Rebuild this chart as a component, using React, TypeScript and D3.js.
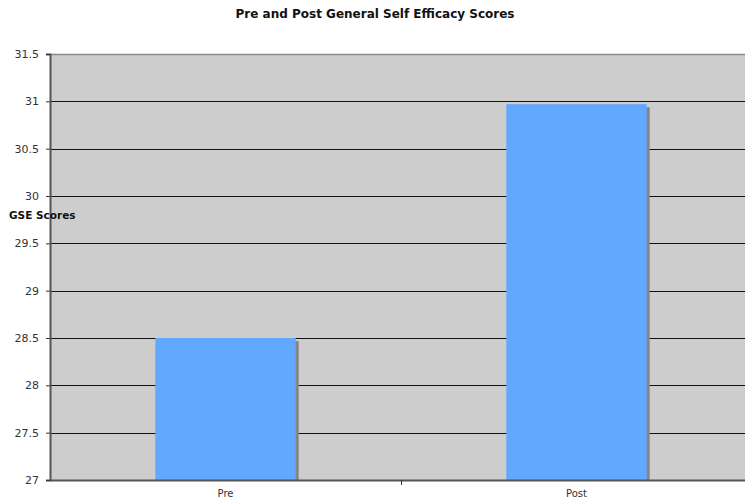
import React, { useEffect, useRef } from 'react';
import * as d3 from 'd3';

const categories = ['Pre', 'Post'];
const scores = [28.5, 30.97];
const yTicks = [27, 27.5, 28, 28.5, 29, 29.5, 30, 30.5, 31, 31.5];

const App: React.FC = () => {
  const svgRef = useRef<SVGSVGElement>(null);

  useEffect(() => {
    if (!svgRef.current) return;
    const width = 745;
    const height = 503;
    const plot = { left: 50, right: 752, top: 54, bottom: 480 };
    const font = 'DejaVu Sans, Verdana, sans-serif';

    const svg = d3.select(svgRef.current).attr('width', width).attr('height', height);
    svg.selectAll('*').remove();

    const x = d3.scaleBand().domain(categories).range([plot.left, plot.right]).padding(0);
    const y = d3.scaleLinear().domain([27, 31.5]).range([plot.bottom, plot.top]);

    // plot background
    svg
      .append('rect')
      .attr('x', plot.left)
      .attr('y', plot.top)
      .attr('width', plot.right - plot.left)
      .attr('height', plot.bottom - plot.top)
      .attr('fill', '#cdcdcd');

    // top border
    svg
      .append('line')
      .attr('x1', plot.left)
      .attr('x2', plot.right)
      .attr('y1', plot.top + 0.5)
      .attr('y2', plot.top + 0.5)
      .attr('stroke', '#8a8a8a')
      .attr('stroke-width', 1.5);

    // grid lines
    svg
      .selectAll('.grid')
      .data(yTicks.filter((t) => t > 27 && t < 31.5))
      .enter()
      .append('line')
      .attr('x1', plot.left)
      .attr('x2', plot.right)
      .attr('y1', (d) => Math.round(y(d)) + 0.5)
      .attr('y2', (d) => Math.round(y(d)) + 0.5)
      .attr('stroke', '#111')
      .attr('stroke-width', 1);

    const barW = x.bandwidth() * 0.4;
    const data = categories.map((c, i) => ({ c, v: scores[i] }));

    // bar shadows
    svg
      .selectAll('.shadow')
      .data(data)
      .enter()
      .append('rect')
      .attr('x', (d) => (x(d.c) ?? 0) + (x.bandwidth() - barW) / 2 + 3)
      .attr('y', (d) => y(d.v) + 3)
      .attr('width', barW)
      .attr('height', (d) => plot.bottom - y(d.v) - 3)
      .attr('fill', '#858585');

    // bars
    svg
      .selectAll('.bar')
      .data(data)
      .enter()
      .append('rect')
      .attr('x', (d) => (x(d.c) ?? 0) + (x.bandwidth() - barW) / 2)
      .attr('y', (d) => y(d.v))
      .attr('width', barW)
      .attr('height', (d) => plot.bottom - y(d.v))
      .attr('fill', '#63a8ff');

    // y axis
    const yAxis = svg
      .append('g')
      .attr('transform', `translate(${plot.left},0)`)
      .call(
        d3
          .axisLeft(y)
          .tickValues(yTicks)
          .tickSize(4)
          .tickPadding(7)
          .tickFormat((d) => String(d)),
      );
    yAxis.select('.domain').attr('stroke', '#555').attr('stroke-width', 2);
    yAxis.selectAll('.tick line').attr('stroke', '#333');
    yAxis
      .selectAll('.tick text')
      .attr('fill', '#333')
      .style('font-family', font)
      .style('font-size', '11px');

    // x axis
    const xAxis = svg
      .append('g')
      .attr('transform', `translate(0,${plot.bottom})`)
      .call(d3.axisBottom(x).tickSize(0).tickPadding(10));
    xAxis.select('.domain').attr('stroke', '#555').attr('stroke-width', 2);
    xAxis
      .selectAll('.tick text')
      .attr('fill', '#333')
      .style('font-family', font)
      .style('font-size', '10px');

    // category separator ticks
    svg
      .selectAll('.sep')
      .data(categories.slice(1))
      .enter()
      .append('line')
      .attr('x1', (d) => Math.round(x(d) ?? 0) + 0.5)
      .attr('x2', (d) => Math.round(x(d) ?? 0) + 0.5)
      .attr('y1', plot.bottom)
      .attr('y2', plot.bottom + 5)
      .attr('stroke', '#333');

    // title
    svg
      .append('text')
      .attr('x', 375)
      .attr('y', 18)
      .attr('text-anchor', 'middle')
      .style('font-family', font)
      .style('font-size', '12px')
      .style('font-weight', 'bold')
      .attr('fill', '#111')
      .text('Pre and Post General Self Efficacy Scores');

    // y label
    svg
      .append('text')
      .attr('x', 9)
      .attr('y', 219)
      .style('font-family', font)
      .style('font-size', '10.5px')
      .style('font-weight', 'bold')
      .attr('fill', '#111')
      .text('GSE Scores');
  }, []);

  return <svg ref={svgRef} style={{ position: 'absolute', left: 0, top: 0 }}></svg>;
};

export default App;
